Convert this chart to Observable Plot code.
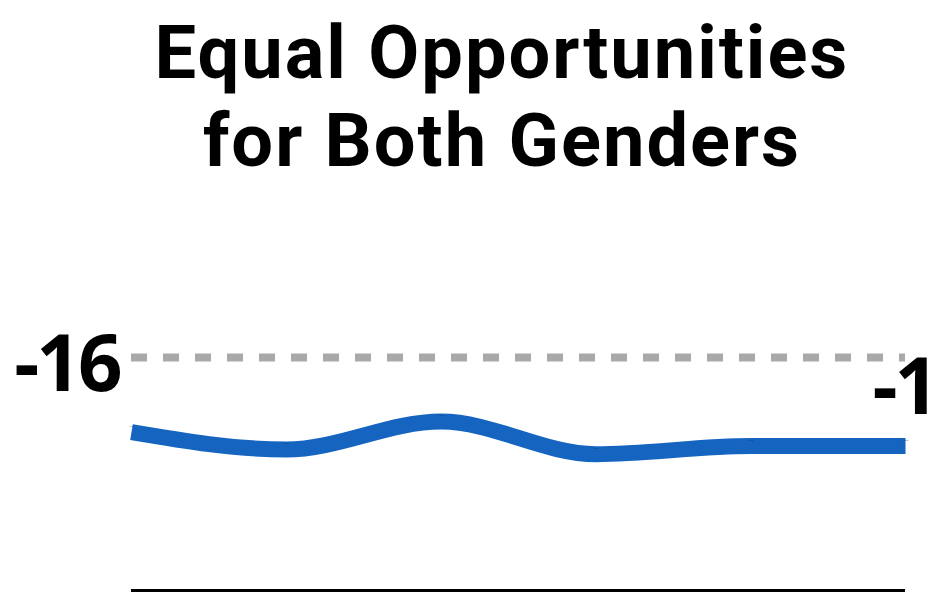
<!DOCTYPE html>
<html>
<head>
<meta charset="utf-8">
<script src="https://cdn.jsdelivr.net/npm/d3@7"></script>
<script src="https://cdn.jsdelivr.net/npm/@observablehq/plot@0.6"></script>
<style>
  html, body { margin: 0; padding: 0; background: #fff; overflow: hidden; width: 932px; height: 606px; }
  #title {
    height: 190px; box-sizing: border-box; padding-top: 9px; padding-left: 72px;
    text-align: center; font-family: Roboto, sans-serif; font-weight: 700;
    font-size: 74px; line-height: 88px; letter-spacing: 2px; color: #000;
  }
  #chart g[font-size="78"] text { letter-spacing: -3px; }
</style>
</head>
<body>
<div id="title">Equal Opportunities<br>for Both Genders</div>
<div id="chart"></div>
<script>
const titleLines = ["Equal Opportunities", "for Both Genders"];
const periods = [1, 2, 3, 4, 5, 6];
const values = [-16.64, -16.79, -16.55, -16.83, -16.76, -16.76];
const referenceValue = -16;
const referenceLabel = "-16";
const endLabel = "-17";
const yDomain = [-18, -15];

const data = periods.map((p, i) => ({period: p, value: values[i]}));
const last = data[data.length - 1];

const chart = Plot.plot({
  width: 932,
  height: 416,
  marginLeft: 131,
  marginRight: 27,
  marginTop: 50.5,
  marginBottom: 16,
  x: {domain: [periods[0], periods[periods.length - 1]], axis: null},
  y: {domain: yDomain, axis: null},
  style: {fontFamily: "'Open Sans', sans-serif", background: "white", overflow: "visible"},
  marks: [
    Plot.ruleY([referenceValue], {stroke: "#a7a9a8", strokeWidth: 8, strokeDasharray: "16,16"}),
    Plot.ruleY([yDomain[0]], {stroke: "#000", strokeWidth: 3}),
    Plot.line(data, {x: "period", y: "value", stroke: "#1565c0", strokeWidth: 16, curve: "monotone-x", strokeLinecap: "butt"}),
    Plot.text(data, {x: "period", y: "value", text: d => d.value.toFixed(2), fontSize: 2, dy: -6, fill: "#1b2a44"}),
    Plot.text([referenceValue], {y: d => d, frameAnchor: "left", text: [referenceLabel], textAnchor: "end", dx: -12, dy: 9, fontSize: 78, fontWeight: 700, fill: "#000"}),
    Plot.text([last], {x: "period", y: "value", text: [endLabel], textAnchor: "start", dx: -33, dy: -57, fontSize: 78, fontWeight: 700, fill: "#000"})
  ]
});
document.getElementById("chart").appendChild(chart);
</script>
</body>
</html>
